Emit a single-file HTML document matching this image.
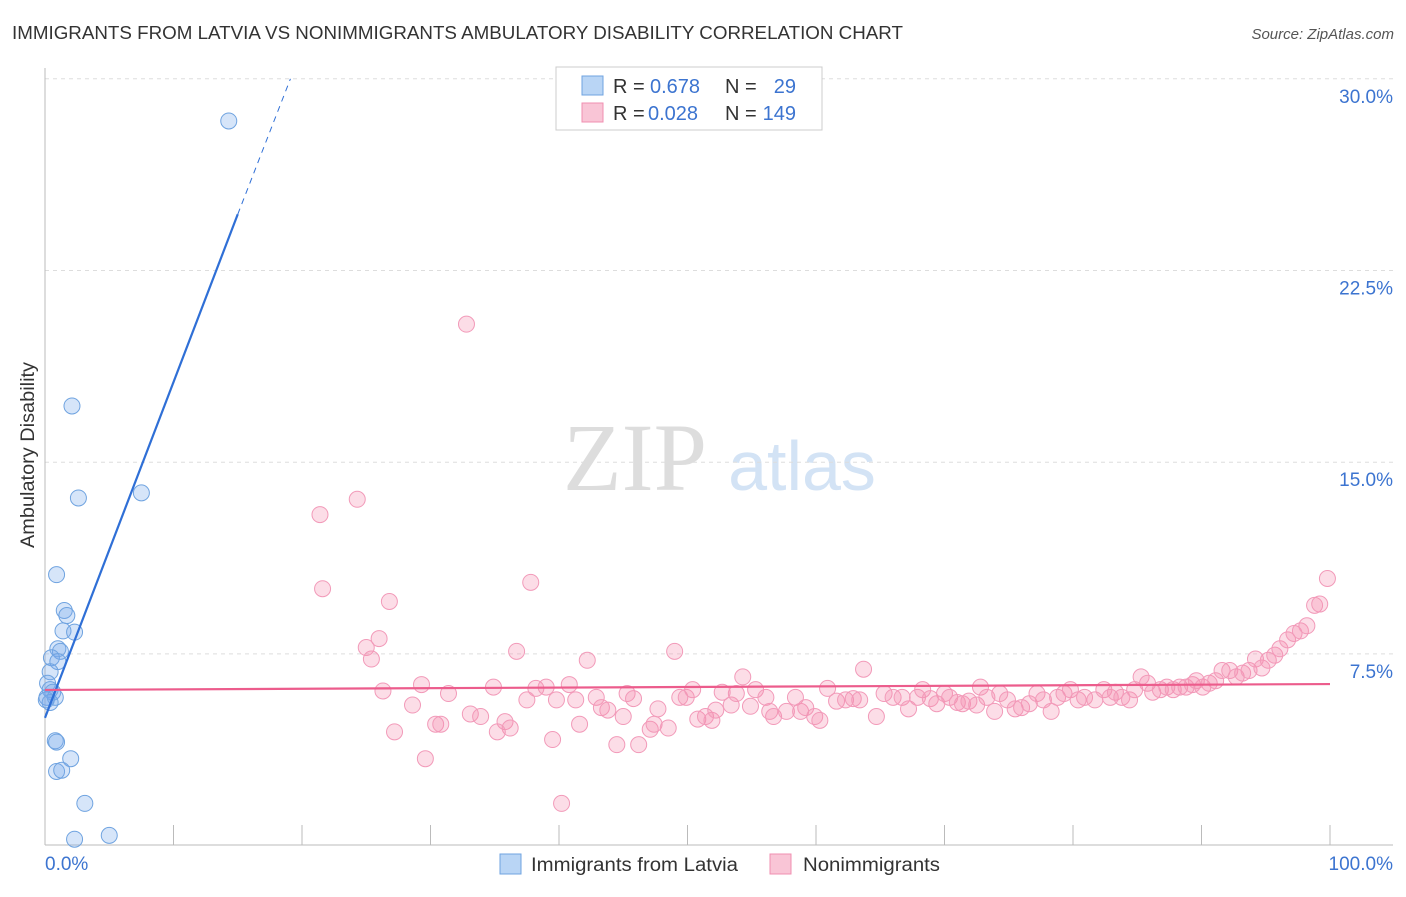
<!DOCTYPE html>
<html><head><meta charset="utf-8"><style>
body{margin:0;background:#fff;font-family:"Liberation Sans",sans-serif}
svg text{font-family:"Liberation Sans",sans-serif}
</style></head><body>
<svg id="c" width="1406" height="892" viewBox="0 0 1406 892">
<text x="12" y="39" font-size="18" fill="#333" textLength="891" lengthAdjust="spacingAndGlyphs">IMMIGRANTS FROM LATVIA VS NONIMMIGRANTS AMBULATORY DISABILITY CORRELATION CHART</text>
<text x="1394" y="39" font-size="15" fill="#555" font-style="italic" text-anchor="end">Source: ZipAtlas.com</text>
<text x="34" y="455" font-size="19" fill="#333" text-anchor="middle" textLength="186" lengthAdjust="spacingAndGlyphs" transform="rotate(-90 34 455)">Ambulatory Disability</text>
<g>
<text x="635" y="490" font-size="96" fill="#ddd" text-anchor="middle" font-family="Liberation Serif" style="font-family:'Liberation Serif',serif">ZIP</text>
<text x="802" y="490" font-size="70" fill="#d3e3f5" text-anchor="middle">atlas</text>
</g>
<g id="grid"></g><g id="axes"></g><g id="pts"></g><g id="lines"></g>
<g>
<rect x="556" y="67" width="266" height="63" fill="#fff" stroke="#ccc"/>
<rect x="582" y="76" width="21" height="19" fill="#b9d5f5" stroke="#6fa3e0"/>
<text x="613" y="93" font-size="20" fill="#333">R =</text>
<text x="650" y="93" font-size="20" fill="#3c74d0">0.678</text>
<text x="725" y="93" font-size="20" fill="#333">N =</text>
<text x="796" y="93" font-size="20" fill="#3c74d0" text-anchor="end">29</text>
<rect x="582" y="103" width="21" height="19" fill="#f9c5d6" stroke="#f08fb0"/>
<text x="613" y="120" font-size="20" fill="#333">R =</text>
<text x="648" y="120" font-size="20" fill="#3c74d0">0.028</text>
<text x="725" y="120" font-size="20" fill="#333">N =</text>
<text x="796" y="120" font-size="20" fill="#3c74d0" text-anchor="end">149</text>
</g>
<g>
<rect x="500" y="854" width="21" height="20" fill="#b9d5f5" stroke="#6fa3e0"/>
<text x="531" y="871" font-size="19" fill="#333" textLength="207" lengthAdjust="spacingAndGlyphs">Immigrants from Latvia</text>
<rect x="770" y="854" width="21" height="20" fill="#f9c5d6" stroke="#f08fb0"/>
<text x="803" y="871" font-size="19" fill="#333" textLength="137" lengthAdjust="spacingAndGlyphs">Nonimmigrants</text>
</g>
</svg>
<script>
const yTicks=[7.5,15,22.5,30];
const yTickLabels=["7.5%","15.0%","22.5%","30.0%"];
const xTickLabels=["0.0%","100.0%"];
const blueX=[14.3,2.1,2.6,7.5,0.9,1.5,1.7,1.4,2.3,1.0,1.2,0.5,1.0,0.4,0.2,0.4,0.6,0.15,0.8,0.4,0.8,0.9,2.0,0.9,1.3,3.1,2.3,5.0,0.1];
const blueY=[28.35,17.2,13.6,13.8,10.6,9.2,9.0,8.4,8.35,7.7,7.6,7.35,7.2,6.8,6.35,6.1,6.0,5.8,5.8,5.6,4.1,4.05,3.4,2.9,2.95,1.65,0.25,0.4,5.7];
const pinkX=[32.8,21.4,24.3,21.6,37.8,26.8,26.0,25.0,25.4,36.7,42.2,49.0,54.3,63.7,26.3,29.3,31.4,34.9,38.2,39.0,40.8,42.9,45.3,45.8,28.6,37.5,39.8,41.3,43.3,43.8,47.7,49.4,49.9,50.4,33.1,33.9,30.4,30.8,35.8,36.2,35.2,27.2,41.6,45.0,47.1,47.4,48.5,39.5,44.5,46.2,29.6,40.2,50.8,51.4,51.9,52.2,53.4,53.8,52.7,54.9,55.3,56.1,56.4,56.7,57.7,58.4,58.8,59.2,59.9,60.3,60.9,61.6,62.3,62.9,63.4,64.7,65.3,66.0,66.7,67.2,67.9,68.3,68.9,69.4,70.0,70.4,71.0,71.4,71.9,72.5,72.8,73.3,73.9,74.3,74.9,75.5,76.0,76.6,77.2,77.7,78.3,78.8,79.3,79.8,80.4,80.9,81.7,82.4,82.9,83.3,83.8,84.4,84.8,85.3,85.8,86.2,86.8,87.3,87.8,88.3,88.8,89.3,89.6,90.1,90.6,91.1,91.6,92.2,92.7,93.2,93.7,94.2,94.7,95.2,95.7,96.1,96.7,97.2,97.7,98.2,98.8,99.2,99.8];
const pinkY=[20.4,12.95,13.55,10.05,10.3,9.55,8.1,7.75,7.3,7.6,7.25,7.6,6.6,6.9,6.05,6.3,5.95,6.2,6.15,6.2,6.3,5.8,5.95,5.75,5.5,5.7,5.7,5.7,5.4,5.3,5.35,5.8,5.8,6.1,5.15,5.05,4.75,4.75,4.85,4.6,4.45,4.45,4.75,5.05,4.55,4.75,4.6,4.15,3.95,3.95,3.4,1.65,4.95,5.05,4.9,5.3,5.5,5.95,6.0,5.45,6.1,5.8,5.25,5.05,5.25,5.8,5.25,5.4,5.05,4.9,6.15,5.65,5.7,5.75,5.7,5.05,5.95,5.8,5.8,5.35,5.8,6.1,5.75,5.55,5.95,5.8,5.6,5.55,5.65,5.5,6.2,5.8,5.25,5.95,5.7,5.35,5.4,5.55,5.95,5.7,5.25,5.8,5.95,6.1,5.7,5.8,5.7,6.1,5.8,6.0,5.8,5.7,6.1,6.6,6.35,6.0,6.1,6.2,6.1,6.2,6.2,6.3,6.45,6.2,6.35,6.45,6.85,6.85,6.6,6.75,6.85,7.3,6.95,7.25,7.45,7.7,8.05,8.3,8.4,8.6,9.4,9.45,10.45];
const blueLine=[[0,5.0],[15,24.7]];
const blueDash=[[15,24.7],[19.1,30]];
const pinkLine=[[0,6.09],[100,6.32]];
const X=v=>45+v*12.85, Y=v=>845.6-v*25.56;
const NS="http://www.w3.org/2000/svg";
function mk(p,t,a){const e=document.createElementNS(NS,t);for(const k in a)e.setAttribute(k,a[k]);document.getElementById(p).appendChild(e);return e;}
yTicks.forEach((t,i)=>{
 const g=mk('grid','line',{x1:45,x2:1393,y1:Y(t),y2:Y(t),stroke:'#ddd','stroke-dasharray':'4,4'});
 
 
 const l=mk('axes','text',{x:1393,y:Y(t)+24,'font-size':19,fill:'#3c74d0','text-anchor':'end'});
 l.textContent=yTickLabels[i];
 
 
});
const ax=mk('axes','line',{x1:45,x2:1393,y1:845,y2:845,stroke:'#bbb'});


const ay=mk('axes','line',{x1:45,x2:45,y1:68,y2:845,stroke:'#bbb'});


for(let i=0;i<=10;i++){const t=mk('axes','line',{x1:X(i*10),x2:X(i*10),y1:825,y2:845,stroke:'#bbb'});
 
 }
const xl0=mk('axes','text',{x:45,y:870,'font-size':19,fill:'#3c74d0'});xl0.textContent=xTickLabels[0];


const xl1=mk('axes','text',{x:1393,y:870,'font-size':19,fill:'#3c74d0','text-anchor':'end'});xl1.textContent=xTickLabels[1];


pinkX.forEach((v,i)=>{const c=mk('pts','circle',{cx:X(v),cy:Y(pinkY[i]),r:8,fill:'rgba(244,143,177,0.3)',stroke:'#f29ab9','stroke-width':1});
 
 });
blueX.forEach((v,i)=>{const c=mk('pts','circle',{cx:X(v),cy:Y(blueY[i]),r:8,fill:'rgba(120,170,235,0.3)',stroke:'#6fa3e0','stroke-width':1});
 
 });
const bl=mk('lines','line',{x1:X(blueLine[0][0]),y1:Y(blueLine[0][1]),x2:X(blueLine[1][0]),y2:Y(blueLine[1][1]),stroke:'#2f6fd6','stroke-width':2.2});


const bd=mk('lines','line',{x1:X(blueDash[0][0]),y1:Y(blueDash[0][1]),x2:X(blueDash[1][0]),y2:Y(blueDash[1][1]),stroke:'#2f6fd6','stroke-width':1,'stroke-dasharray':'6,5'});


const pl=mk('lines','line',{x1:X(pinkLine[0][0]),y1:Y(pinkLine[0][1]),x2:X(pinkLine[1][0]),y2:Y(pinkLine[1][1]),stroke:'#ec5c8c','stroke-width':2.2});


</script>
</body></html>
